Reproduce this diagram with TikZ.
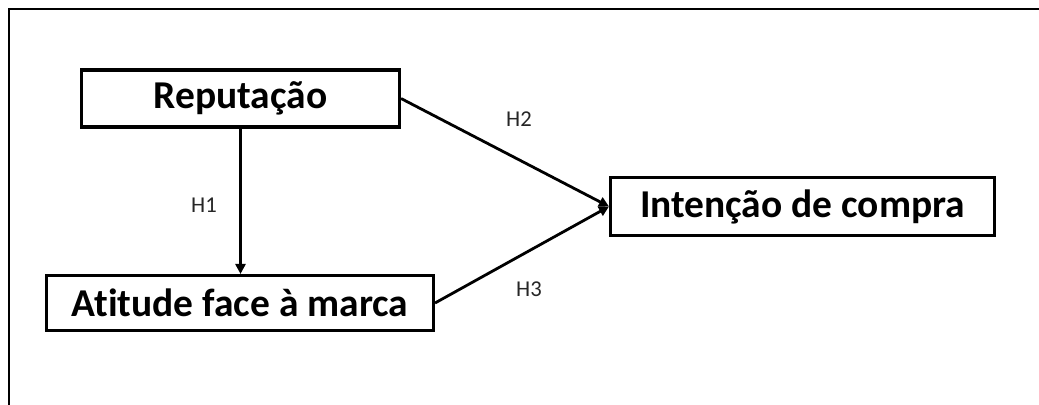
\documentclass[tikz,border=0pt]{standalone}
\usepackage{fontspec}
\setmainfont[Ligatures=NoCommon]{Carlito}
\usetikzlibrary{arrows.meta}
\begin{document}
\begin{tikzpicture}[x=0.75pt,y=-0.75pt,
  box/.style={draw=black, line width=2.3pt, rectangle, inner sep=0pt,
    font=\fontsize{29.6}{34}\selectfont\bfseries},
  conn/.style={line width=2.1pt, -{Triangle[length=7.5pt,width=7.5pt]}},
  hlabel/.style={font=\fontsize{17}{20}\selectfont, text=black!85, inner sep=0pt},
  frame/.style={line width=2.2pt}]
\useasboundingbox (0,0) rectangle (1039,404);
\coordinate (fa) at (1045,9);
\coordinate (fb) at (9,9);
\coordinate (fc) at (9,410);
\draw[frame] (fa) -- (fb) -- (fc);
\node[box, minimum width=238.5pt, minimum height=42.75pt] (rep) at (240.5,98.5) {Reputação};
\node[box, minimum width=290.25pt, minimum height=41.25pt] (ati) at (240,303) {Atitude face à marca};
\node[box, minimum width=288pt, minimum height=43.5pt] (int) at (802.5,206.5) {Intenção de compra};
\draw[conn] (rep.south) -- (rep.south |- ati.north);
\draw[conn] (rep.east) -- (int.west);
\draw[conn] (ati.east) -- (int.west);
\node[hlabel] (h1) at (204,205) {H1};
\node[hlabel] (h2) at (519,119) {H2};
\node[hlabel] (h3) at (529,289) {H3};
\end{tikzpicture}
\end{document}
